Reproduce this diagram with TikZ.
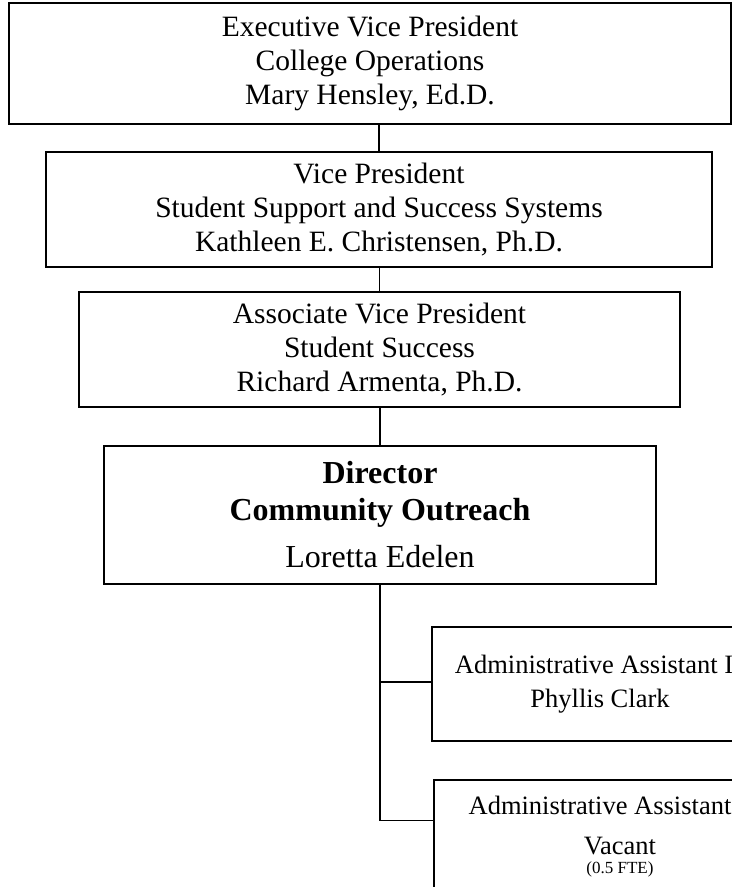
\documentclass[tikz,border=0pt]{standalone}
\usepackage{fontspec}
\setmainfont{Liberation Serif}
\usetikzlibrary{calc}
\begin{document}
\begin{tikzpicture}[x=0.5pt,y=-0.5pt,
  box/.style={draw=black, line width=0.75pt, inner sep=0pt, align=center, text=black,
    font=\fontsize{14.75}{17}\selectfont},
  dirbox/.style={box, line width=1.1pt, font=\fontsize{16}{18.5}\selectfont},
  asbox/.style={box, font=\fontsize{13.25}{17}\selectfont},
  link/.style={draw=black, line width=0.75pt}]
\useasboundingbox (0,0) rectangle (732,887);
\fill[white] (0,0) rectangle (732,887);
\clip (0,0) rectangle (732,887);

\node[box, minimum width=361pt, minimum height=60.5pt] (b1) at (370,63.5)
  {Executive Vice President\\College Operations\\Mary Hensley, Ed.D.};
\node[box, minimum width=333pt, minimum height=57.5pt] (b2) at (379,209.5)
  {Vice President\\Student Support and Success Systems\\Kathleen E. Christensen, Ph.D.};
\node[box, minimum width=300.5pt, minimum height=57.5pt] (b3) at (379.5,349.5)
  {Associate Vice President\\Student Success\\Richard Armenta, Ph.D.};
\node[dirbox, minimum width=276pt, minimum height=69pt] (b4) at (380,515)
  {\bfseries Director\\\bfseries Community Outreach\\[5pt]Loretta Edelen};
\node[asbox, minimum width=168pt, minimum height=57pt] (b5) at (600,684)
  {Administrative Assistant I\hspace*{6pt}\\Phyllis Clark};
\node[asbox, minimum width=186pt, minimum height=57pt] (b6) at (620,837)
  {Administrative Assistant\hspace*{20pt}\\[3pt]Vacant\\[-7.4pt]{\fontsize{8.5}{10}\selectfont (0.5 FTE)}};

\coordinate (b5in) at ([yshift=1pt]b5.west);
\coordinate (b6in) at ([yshift=-20.5pt]b6.north west);
\coordinate (trunkend) at (b4.south |- b6in);

\draw[link] (b2.north) -- (b2.north |- b1.south);
\draw[link] (b3.north) -- (b3.north |- b2.south);
\draw[link] (b4.north) -- (b4.north |- b3.south);
\draw[link] (b4.south) -- (trunkend) -- (b6in);
\draw[link] (b4.south |- b5in) -- (b5in);
\end{tikzpicture}
\end{document}
